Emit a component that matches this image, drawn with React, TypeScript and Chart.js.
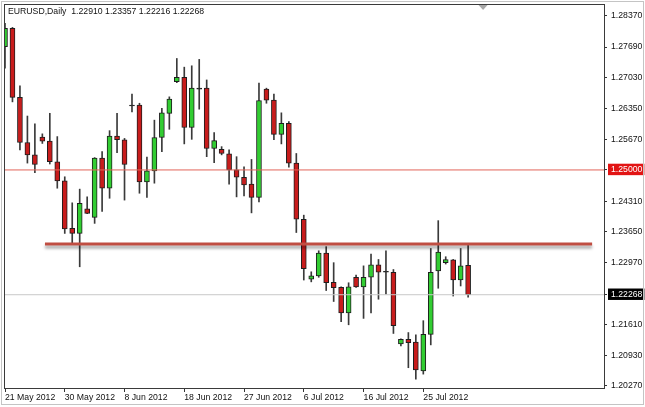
import React, { useEffect, useRef } from 'react';
import { Chart, registerables } from 'chart.js';

Chart.register(...registerables);

const symbolTitle = 'EURUSD,Daily';

const dates = [
  '21 May 2012', '22 May 2012', '23 May 2012', '24 May 2012', '25 May 2012', '27 May 2012', '28 May 2012', '29 May 2012',
  '30 May 2012', '31 May 2012', '1 Jun 2012', '3 Jun 2012', '4 Jun 2012', '5 Jun 2012', '6 Jun 2012', '7 Jun 2012',
  '8 Jun 2012', '10 Jun 2012', '11 Jun 2012', '12 Jun 2012', '13 Jun 2012', '14 Jun 2012', '15 Jun 2012', '17 Jun 2012',
  '18 Jun 2012', '19 Jun 2012', '20 Jun 2012', '21 Jun 2012', '22 Jun 2012', '24 Jun 2012', '25 Jun 2012', '26 Jun 2012',
  '27 Jun 2012', '28 Jun 2012', '29 Jun 2012', '1 Jul 2012', '2 Jul 2012', '3 Jul 2012', '4 Jul 2012', '5 Jul 2012',
  '6 Jul 2012', '8 Jul 2012', '9 Jul 2012', '10 Jul 2012', '11 Jul 2012', '12 Jul 2012', '13 Jul 2012', '15 Jul 2012',
  '16 Jul 2012', '17 Jul 2012', '18 Jul 2012', '19 Jul 2012', '20 Jul 2012', '22 Jul 2012', '23 Jul 2012', '24 Jul 2012',
  '25 Jul 2012', '26 Jul 2012', '27 Jul 2012', '29 Jul 2012', '30 Jul 2012', '31 Jul 2012', '1 Aug 2012',
];

const openPrices = [
  1.2770, 1.2810, 1.2659, 1.2560, 1.2533, 1.2572, 1.2563, 1.2518,
  1.2476, 1.2372, 1.2361, 1.2415, 1.2396, 1.2526, 1.2460, 1.2574,
  1.2566, 1.2640, 1.2642, 1.2474, 1.2498, 1.2571, 1.2624, 1.2693,
  1.2703, 1.2593, 1.2677, 1.2679, 1.2547, 1.2545, 1.2535, 1.2500,
  1.2484, 1.2469, 1.2440, 1.2677, 1.2653, 1.2578, 1.2602, 1.2515,
  1.2392, 1.2261, 1.2268, 1.2318, 1.2254, 1.2243, 1.2187, 1.2265,
  1.2244, 1.2265, 1.2292, 1.2276, 1.2276, 1.2119, 1.2129, 1.2123,
  1.2060, 1.2140, 1.2279, 1.2297, 1.2303, 1.2259, 1.22910,
];

const highPrices = [
  1.2821, 1.2812, 1.2684, 1.2618, 1.2601, 1.2579, 1.2624, 1.2573,
  1.2485, 1.2428, 1.2458, 1.2441, 1.2527, 1.2540, 1.2586, 1.2624,
  1.2569, 1.2666, 1.2646, 1.2528, 1.2609, 1.2635, 1.2660, 1.2744,
  1.2725, 1.2728, 1.2742, 1.2697, 1.2582, 1.2551, 1.2544, 1.2529,
  1.2507, 1.2523, 1.2690, 1.2679, 1.2666, 1.2625, 1.2606, 1.2536,
  1.2401, 1.2277, 1.2323, 1.2332, 1.2297, 1.2244, 1.2253, 1.2270,
  1.2290, 1.2316, 1.2304, 1.2323, 1.2282, 1.2130, 1.2144, 1.2139,
  1.2170, 1.2328, 1.2389, 1.2310, 1.2304, 1.2328, 1.23357,
];

const lowPrices = [
  1.2723, 1.2649, 1.2544, 1.2515, 1.2494, 1.2558, 1.2513, 1.2460,
  1.2361, 1.2339, 1.2288, 1.2404, 1.2383, 1.2409, 1.2438, 1.2538,
  1.2434, 1.2627, 1.2449, 1.2440, 1.2471, 1.2540, 1.2589, 1.2691,
  1.2557, 1.2567, 1.2633, 1.2529, 1.2516, 1.2533, 1.2469, 1.2441,
  1.2443, 1.2406, 1.2430, 1.2646, 1.2566, 1.2557, 1.2506, 1.2363,
  1.2259, 1.2255, 1.2265, 1.2236, 1.2212, 1.2168, 1.2161, 1.2243,
  1.2175, 1.2187, 1.2217, 1.2228, 1.2142, 1.2115, 1.2067, 1.2042,
  1.2053, 1.2117, 1.2241, 1.2294, 1.2224, 1.2246, 1.22216,
];

const closePrices = [
  1.2810, 1.2659, 1.2560, 1.2533, 1.2512, 1.2563, 1.2518, 1.2476,
  1.2371, 1.2361, 1.2427, 1.2405, 1.2526, 1.2460, 1.2574, 1.2566,
  1.2512, 1.2640, 1.2474, 1.2498, 1.2571, 1.2625, 1.2655, 1.2703,
  1.2593, 1.2679, 1.2677, 1.2547, 1.2564, 1.2536, 1.2500, 1.2484,
  1.2467, 1.2440, 1.2652, 1.2653, 1.2578, 1.2602, 1.2515, 1.2392,
  1.2284, 1.2268, 1.2318, 1.2253, 1.2242, 1.2187, 1.2244, 1.2244,
  1.2265, 1.2292, 1.2276, 1.2276, 1.2159, 1.2129, 1.2122, 1.2062,
  1.2140, 1.2276, 1.2320, 1.2304, 1.2259, 1.2290, 1.22268,
];

const xTickIndices = [0, 8, 16, 24, 32, 40, 48, 56];
const yTickValues = [
  1.2837, 1.2769, 1.2703, 1.2635, 1.2567, 1.25, 1.2431, 1.2365, 1.2297, 1.22268, 1.2161, 1.2093, 1.2027,
];

const horizontalLevel = 1.25;
const trendLevel = 1.2338;
const trendStartIndex = 5.35;
const trendEndIndex = 78.6;

const xMin = -0.134;
const xMax = 80.19;
const yMin = 1.202262;
const yMax = 1.286327;

const FONT = '"Liberation Sans", Arial, sans-serif';
const FONT_SIZE = 8.7;
const GREEN = 'rgb(50,205,50)';
const RED = 'rgb(200,28,28)';

export default function App() {
  const ref = useRef<HTMLCanvasElement | null>(null);

  useEffect(() => {
    const canvas = ref.current;
    if (!canvas) return;
    const n = dates.length;
    const last = n - 1;
    const lastClose = closePrices[last];

    const bodies = dates.map((_, i) => ({ x: i, y: [openPrices[i], closePrices[i]] }));
    const wicks = dates.map((_, i) => ({ x: i, y: [lowPrices[i], highPrices[i]] }));

    const decor = {
      id: 'decor',
      beforeDraw(chart: any) {
        const c = chart.ctx;
        c.save();
        c.fillStyle = '#ffffff';
        c.fillRect(0, 0, chart.width, chart.height);
        c.restore();
      },
      afterDraw(chart: any) {
        const c = chart.ctx;
        const a = chart.chartArea;
        c.save();
        c.lineWidth = 1;
        c.strokeStyle = '#c4c4c4';
        c.strokeRect(1.5, 1.5, chart.width - 3, chart.height - 4);
        c.strokeStyle = '#3a3a3a';
        c.strokeRect(a.left + 0.5, a.top + 0.5, a.right - a.left, a.bottom - a.top);
        // chart shift marker
        const sx = chart.scales.x.getPixelForValue(last + 2);
        c.fillStyle = '#a8a8a8';
        c.beginPath();
        c.moveTo(sx - 4.5, a.top + 1);
        c.lineTo(sx + 4.5, a.top + 1);
        c.lineTo(sx, a.top + 6);
        c.closePath();
        c.fill();
        // title
        c.font = `${FONT_SIZE}px ${FONT}`;
        c.fillStyle = '#111';
        c.textBaseline = 'middle';
        c.textAlign = 'left';
        const t = `${symbolTitle}  ${openPrices[last].toFixed(5)} ${highPrices[last].toFixed(5)} ${lowPrices[last].toFixed(5)} ${closePrices[last].toFixed(5)}`;
        c.fillText(t, a.left + 4, a.top + 8);
        c.restore();
      },
      beforeDatasetDraw(chart: any, args: any) {
        if (args.meta && args.meta._dataset && args.meta._dataset.label === 'trend') {
          const c = chart.ctx;
          c.save();
          c.shadowColor = 'rgba(0,0,0,0.35)';
          c.shadowBlur = 3;
          c.shadowOffsetY = 3;
        }
      },
      afterDatasetDraw(chart: any, args: any) {
        if (args.meta && args.meta._dataset && args.meta._dataset.label === 'trend') {
          chart.ctx.restore();
        }
      },
    };

    const isSpecial = (v: number) => Math.abs(v - horizontalLevel) < 1e-7 || Math.abs(v - lastClose) < 1e-7;

    const chart = new Chart(canvas, {
      type: 'bar',
      data: {
        datasets: [
          {
            type: 'line',
            label: 'trend',
            data: [{ x: trendStartIndex, y: trendLevel }, { x: trendEndIndex, y: trendLevel }],
            borderColor: 'rgb(192,78,66)',
            borderWidth: 3,
            pointRadius: 0,
            order: 0,
          } as any,
          {
            type: 'line',
            label: 'level',
            data: [{ x: xMin, y: horizontalLevel }, { x: xMax, y: horizontalLevel }],
            borderColor: 'rgb(226,100,90)',
            borderWidth: 1,
            pointRadius: 0,
            order: 1,
          } as any,
          {
            type: 'line',
            label: 'bid',
            data: [{ x: xMin, y: lastClose }, { x: xMax, y: lastClose }],
            borderColor: '#c8c8c8',
            borderWidth: 1,
            pointRadius: 0,
            order: 1,
          } as any,
          {
            type: 'bar',
            label: 'body',
            data: bodies,
            backgroundColor: (ctx: any) => {
              const i = ctx.dataIndex;
              if (closePrices[i] > openPrices[i]) return GREEN;
              if (closePrices[i] < openPrices[i]) return RED;
              return '#1e1e1e';
            },
            borderColor: '#1e1e1e',
            borderWidth: 1,
            borderSkipped: false,
            barThickness: 5,
            minBarLength: 1,
            grouped: false,
            order: 3,
          } as any,
          {
            type: 'bar',
            label: 'wick',
            data: wicks,
            backgroundColor: '#3a3a3a',
            borderWidth: 0,
            barThickness: 1,
            grouped: false,
            order: 4,
          } as any,
        ],
      },
      options: {
        responsive: false,
        animation: false,
        devicePixelRatio: 1,
        events: [],
        layout: { padding: { left: 4, top: 4, right: 0, bottom: 0 } },
        plugins: {
          legend: { display: false },
          tooltip: { enabled: false },
          title: { display: false },
        },
        scales: {
          x: {
            type: 'linear',
            min: xMin,
            max: xMax,
            offset: false,
            bounds: 'data',
            afterBuildTicks: (s: any) => {
              s.ticks = xTickIndices.map((v) => ({ value: v }));
            },
            afterFit: (s: any) => {
              s.height = 19;
              s.paddingLeft = 0;
              s.paddingRight = 0;
            },
            ticks: {
              autoSkip: false,
              maxRotation: 0,
              minRotation: 0,
              align: 'start',
              padding: 0,
              color: '#111',
              font: { family: FONT, size: FONT_SIZE },
              callback: (v: any) => dates[Math.round(Number(v))] ?? '',
            },
            grid: { drawOnChartArea: false, drawTicks: true, tickLength: 4, tickColor: '#333', offset: false },
            border: { display: false },
          },
          y: {
            type: 'linear',
            position: 'right',
            min: yMin,
            max: yMax,
            bounds: 'data',
            afterBuildTicks: (s: any) => {
              s.ticks = yTickValues.map((v) => ({ value: v }));
            },
            afterFit: (s: any) => {
              s.width = 41;
              s.paddingTop = 0;
              s.paddingBottom = 0;
            },
            ticks: {
              autoSkip: false,
              padding: 4,
              font: { family: FONT, size: FONT_SIZE },
              color: (ctx: any) => (ctx.tick && isSpecial(ctx.tick.value) ? '#ffffff' : '#111'),
              showLabelBackdrop: (ctx: any) => !!(ctx.tick && isSpecial(ctx.tick.value)),
              backdropColor: (ctx: any) =>
                ctx.tick && Math.abs(ctx.tick.value - horizontalLevel) < 1e-7 ? 'rgb(226,20,20)' : '#000000',
              backdropPadding: { top: 1, bottom: 0, left: 3, right: 2 },
              callback: (v: any) => Number(v).toFixed(5),
            },
            grid: { drawOnChartArea: false, drawTicks: true, tickLength: 3, tickColor: '#333' },
            border: { display: false },
          },
        },
      } as any,
      plugins: [decor],
    });

    return () => chart.destroy();
  }, []);

  return (
    <div style={{ position: 'fixed', left: 0, top: 0, width: 645, height: 407, background: '#fff' }}>
      <canvas ref={ref} width={645} height={407} style={{ display: 'block', width: 645, height: 407 }} />
    </div>
  );
}
